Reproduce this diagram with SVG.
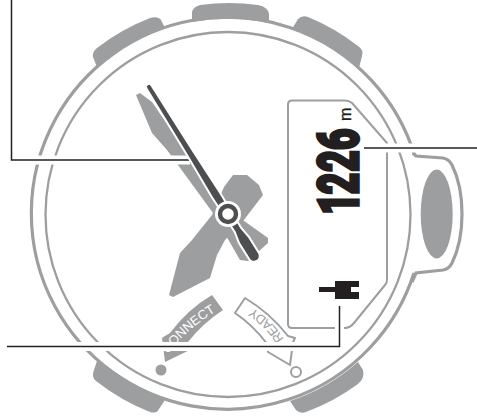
<svg xmlns="http://www.w3.org/2000/svg" width="477" height="419" viewBox="0 0 477 419">
<style>
.g{fill:#9d9ea0}
.r{fill:none;stroke:#9d9ea0;stroke-width:3.2}
.i{fill:none;stroke:#9d9ea0;stroke-width:2.3}
.o{fill:none;stroke:#9d9ea0;stroke-width:2;stroke-linejoin:round}
.h{fill:none;stroke:#fff;stroke-width:9}
.l{fill:none;stroke:#222;stroke-width:1.5}
.d{font-family:Roboto,"Liberation Sans",sans-serif;font-weight:900;font-size:56px;fill:#231f20;stroke:#231f20;stroke-width:3.4}
</style>
<rect width="477" height="419" fill="#fff"/>
<g id="case">
<path class="r" d="M414.5,155 A196 196 0 1 0 414,273"/>
<circle class="i" cx="228" cy="214.5" r="182.5"/>
<path class="g" d="M97,67 L93,57 Q92,52 97,48 A212 212 0 0 1 150,18 Q158,16 161,20 L165,28 A196 196 0 0 0 97,67 Z"/>
<path class="g" d="M192,22 L192,12 Q193,7 200,5 A212 212 0 0 1 258,5 Q268,7 269,14 L269,23 A196 196 0 0 0 192,22 Z"/>
<path class="g" d="M292,29 L298,19 Q302,15 308,17 A212 212 0 0 1 358,46 Q364,50 362,56 L359,68 A196 196 0 0 0 292,29 Z"/>
<path class="g" d="M97,361 L94,370 Q91,377 96,381 A212 212 0 0 0 150,412 Q157,414 159,409 L165,400 A196 196 0 0 1 97,361 Z"/>
<path class="g" d="M290,401 L296,410 Q300,414 306,412 A212 212 0 0 0 358,384 Q365,378 363,370 L358,362 A196 196 0 0 1 290,401 Z"/>
</g>
<g id="crown">
<path class="r" d="M413,153 L416,156 L443,158 Q449,159 452,165 Q462,185 462,214 Q462,243 452,263 Q449,269 443,270 L416,273 L412,282"/>
<ellipse class="g" cx="436.7" cy="214" rx="16" ry="44.5"/>
</g>
<g id="gray-hands">
<path class="g" d="M136,95 L140,93 L152,102 L187,153 L226,208 L268,238 L268,243 L248,261 L240,260 L213,213 L178,165 L167,150 L152,133 Z"/>
<path class="g" d="M169,295 L173,297 L210,278 L217,255 L225,240 L240,225 L263,195 L259,185 L247,175 L233,175 L224,187 L212,215 L192,240 L180,253 Z"/>
</g>
<g id="connect-badge">
<path class="g" d="M212,295 Q188,309 170,333 L165,336 L162,338 L165,362 L198,346 L188,342 Q203,323 223,310 Z"/>
<path id="cp" fill="none" d="M168,354 Q187,328 220,309"/>
<text font-family="'Liberation Sans',Arial,sans-serif" font-size="13" fill="#fff"><textPath href="#cp">CONNECT</textPath></text>
<circle class="g" cx="161" cy="370" r="5.5"/>
</g>
<g id="ready-badge">
<path class="o" d="M245,298 L235,313 Q253,325 268,345 L268,352 L290,365 L292,350 L293,342 L295,338 L288,336 Q270,313 245,298 Z"/>
<path id="rp" fill="none" d="M284,339 Q270,316 244,303"/>
<text font-family="'Liberation Sans',Arial,sans-serif" font-size="13" fill="#9d9ea0"><textPath href="#rp">READY</textPath></text>
<circle class="o" cx="296" cy="372" r="5"/>
</g>
<g id="display">
<path class="o" d="M292,100.5 L345,100.5 Q349,100.5 352,103 L387,143 L387,280 Q387,283 385,285 L354,323 Q350,328 345,328 L292,328 Q288,328 288,324 L288,104.5 Q288,100.5 292,100.5 Z"/>
<text font-family="'Liberation Sans',Arial,sans-serif" font-size="16" fill="#231f20" stroke="#231f20" stroke-width="0.4" transform="translate(350.5,121) rotate(-90)">m</text>
<text class="d" transform="translate(358,212) rotate(-90) scale(0.66,1)" x="-4 27 61 94">1226</text>
<path fill="#231f20" d="M319,287 H335 V281 H359 V287 H351 V292 H359 V299 H335 V292 H319 Z"/>
</g>
<g id="connectors">
<path class="h" d="M7,160 H190"/>
<path class="h" d="M360,148 H477"/>
<path class="h" d="M7,346.5 H339.5 V306"/>
<path class="l" d="M11.5,0 V160 H191"/>
<path class="l" d="M364,148 H477"/>
<path class="l" d="M7,346.5 H339.5 V306"/>
</g>
<g id="second-hand">
<path id="sh" fill="#4d4e50" stroke="#fff" stroke-width="4" paint-order="stroke" d="M150.7,85.9 L192.2,151.6 L219.1,193.1 L240.4,228.5 L248.1,237.5 L258.1,253.5 A4.8 4.8 0 0 1 249.9,258.5 L239.9,242.5 L235.6,231.5 L212.9,196.9 L187.8,154.4 L147.3,88.1 A2 2 0 0 1 150.7,85.9 Z"/>
<circle cx="228" cy="214" r="13" fill="#fff"/>
<circle cx="228" cy="214" r="8" fill="#fff" stroke="#4d4e50" stroke-width="4.4"/>
</g>
</svg>
